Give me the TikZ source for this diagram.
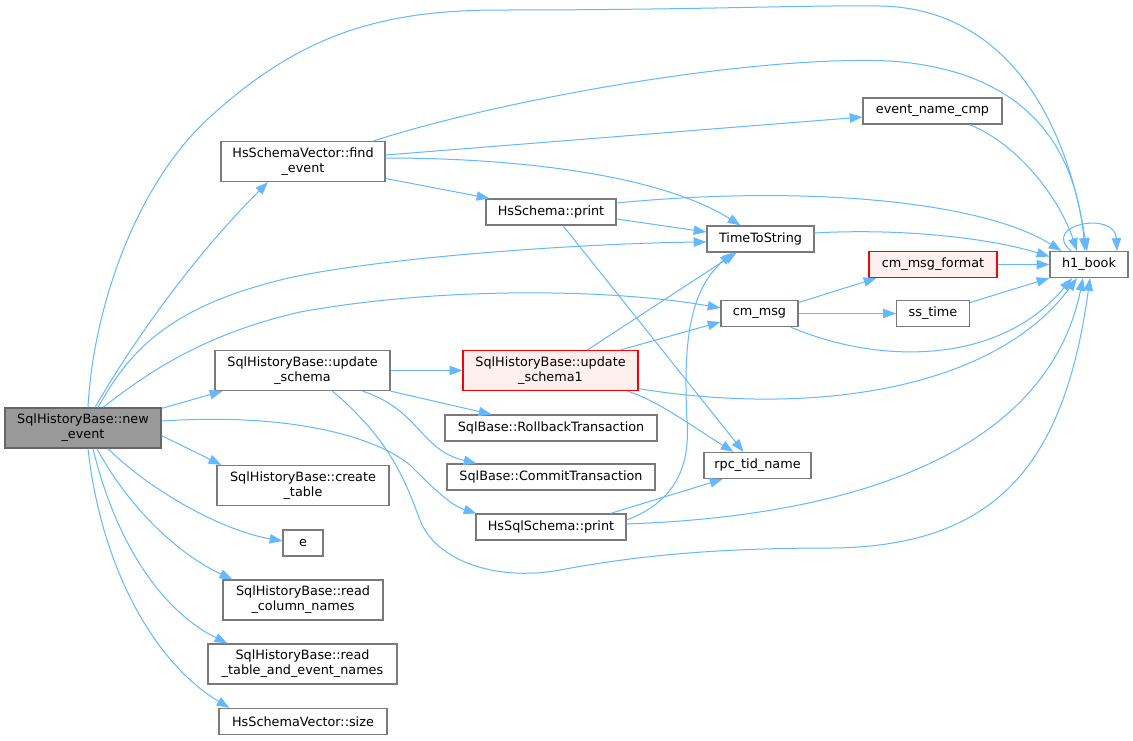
\documentclass[tikz,border=0pt]{standalone}
\usepackage{fontspec}
\setmainfont{DejaVu Sans}
\usetikzlibrary{arrows.meta,calc}
\newdimen\pxu \pxu=0.75pt
\definecolor{edgec}{HTML}{63B8FF}
\definecolor{bordc}{HTML}{7A7A7A}
\definecolor{rootf}{HTML}{999999}
\definecolor{rootb}{HTML}{666666}
\definecolor{redf}{HTML}{FFF0F0}
\definecolor{redb}{HTML}{FF0000}
\tikzset{
  box/.style={draw=bordc, fill=white, line width=0.95pt, inner sep=0pt, align=center,
    font=\fontsize{9.6}{11.25}\selectfont, text=black},
  rootbox/.style={box, fill=rootf, draw=rootb},
  redbox/.style={box, fill=redf, draw=redb},
  sz/.style 2 args={minimum width=#1\pxu, minimum height=#2\pxu},
  edge/.style={draw=edgec, line width=0.75pt, -{Triangle[length=9.5pt,width=7pt]}},
}
\begin{document}
\begin{tikzpicture}[x=0.75pt,y=-0.75pt]
\useasboundingbox[fill=white] (0,0) rectangle (1133,740);
% nodes
\node[rootbox, sz={156}{40}] (N) at (83,428) {SqlHistoryBase::new\\\_event};
\node[box, sz={164}{40}] (F) at (303,161.5) {HsSchemaVector::find\\\_event};
\node[box, sz={175}{40}] (US) at (302.5,370.5) {SqlHistoryBase::update\\\_schema};
\node[box, sz={172}{40}] (CT) at (303,485.5) {SqlHistoryBase::create\\\_table};
\node[box, sz={40}{26}] (E) at (303,543) {e};
\node[box, sz={160}{40}] (RC) at (303,600) {SqlHistoryBase::read\\\_column\_names};
\node[box, sz={189}{40}] (RT) at (302.5,664) {SqlHistoryBase::read\\\_table\_and\_event\_names};
\node[box, sz={168}{26}] (SZ) at (303,721.5) {HsSchemaVector::size};
\node[box, sz={130}{26}] (HP) at (551,212) {HsSchema::print};
\node[box, sz={107}{26}] (TS) at (760.5,239) {TimeToString};
\node[box, sz={139}{26}] (EC) at (932.5,111) {event\_name\_cmp};
\node[box, sz={77}{26}] (CM) at (759.5,313.5) {cm\_msg};
\node[redbox, sz={128}{26}] (CF) at (933,264.5) {cm\_msg\_format};
\node[box, sz={73}{26}] (ST) at (933,313.5) {ss\_time};
\node[box, sz={78}{26}] (H1) at (1089,264.5) {h1\_book};
\node[redbox, sz={175}{40}] (U1) at (550.5,370.5) {SqlHistoryBase::update\\\_schema1};
\node[box, sz={212}{26}] (RB) at (551,428) {SqlBase::RollbackTransaction};
\node[box, sz={208}{26}] (CO) at (551,477) {SqlBase::CommitTransaction};
\node[box, sz={107}{26}] (RP) at (757.5,465.5) {rpc\_tid\_name};
\node[box, sz={150}{26}] (SP) at (551,527) {HsSqlSchema::print};
% edges from new_event
\draw[edge] ($(N.north)+(5,0)$) .. controls (93,310) and (135,185) .. (210,117)
  .. controls (300,35) and (380,10) .. (500,10)
  .. controls (700,10) and (800,5) .. (880,6)
  .. controls (1000,8) and (1065,110) .. ($(H1.north)+(-2,0)$);
\draw[edge] ($(N.north)+(12,0)$) .. controls (140,330) and (200,250) .. ($(F.south)+(-35,0)$);
\draw[edge] ($(N.north)+(15,0)$) .. controls (130,350) and (170,305) .. (293,277)
  .. controls (400,255) and (600,243) .. ($(TS.west)+(0,3)$);
\draw[edge] ($(N.north)+(20,0)$) .. controls (145,375) and (200,335) .. (300,312)
  .. controls (450,285) and (620,290) .. ($(CM.west)+(0,-5.5)$);
\draw[edge] ($(N.north east)+(0,1)$) -- ($(US.south west)+(8,0)$);
\draw[edge] ($(N.east)+(0,-7)$) .. controls (300,412) and (380,440) .. (410,465)
  .. controls (430,485) and (450,505) .. ($(SP.north west)+(1,0)$);
\draw[edge] ($(N.south east)+(0,-13)$) -- ($(CT.north west)+(5,0)$);
\draw[edge] ($(N.south)+(25,0)$) .. controls (150,490) and (220,530) .. ($(E.west)+(0,-2)$);
\draw[edge] ($(N.south)+(14,0)$) .. controls (130,510) and (180,555) .. ($(RC.north west)+(10,0)$);
\draw[edge] ($(N.south)+(10,0)$) .. controls (115,540) and (160,610) .. ($(RT.north west)+(20,0)$);
\draw[edge] ($(N.south)+(5,0)$) .. controls (100,560) and (150,660) .. ($(SZ.north west)+(11,0)$);
% edges from find_event
\draw[edge] ($(F.north east)+(-12,0)$) .. controls (500,100) and (750,55) .. (890,61)
  .. controls (1020,70) and (1075,140) .. ($(H1.north)+(-4,0)$);
\draw[edge] ($(F.east)+(0,-6.5)$) -- ($(EC.west)+(0,6)$);
\draw[edge] ($(F.east)+(0,-3.5)$) .. controls (520,158) and (660,175) .. ($(TS.north)+(-20,0)$);
\draw[edge] ($(F.east)+(0,17)$) -- ($(HP.north west)+(4,0)$);
% HsSchema::print
\draw[edge] ($(HP.east)+(0,-9)$) .. controls (800,185) and (980,200) .. ($(H1.north west)+(12,0)$);
\draw[edge] ($(HP.east)+(0,7)$) -- ($(TS.west)+(0,-7)$);
\draw[edge] ($(HP.south)+(12,0)$) -- ($(RP.north)+(-14,0)$);
% TimeToString, event_name_cmp
\draw[edge] ($(TS.east)+(0,-6)$) .. controls (900,228) and (990,238) .. ($(H1.west)+(0,-8)$);
\draw[edge] ($(EC.south)+(37,0)$) .. controls (1020,145) and (1060,200) .. ($(H1.north)+(-12,0)$);
\draw[edge] ($(H1.north)+(-18,0)$) .. controls (1040,225) and (1115,210) .. ($(H1.north)+(28,0)$);
% cm_msg etc
\draw[edge] (CF.east) -- (H1.west);
\draw[edge] ($(CM.east)+(0,-11)$) -- ($(CF.south west)+(8,0)$);
\draw[edge] (CM.east) -- (ST.west);
\draw[edge] ($(CM.south east)+(-8,0)$) .. controls (880,365) and (1000,365) .. ($(H1.south)+(-17,0)$);
\draw[edge] ($(ST.east)+(0,-11)$) -- (H1.south west);
% update_schema
\draw[edge] (US.east) -- (U1.west);
\draw[edge] (US.south east) -- ($(RB.north west)+(47,0)$);
\draw[edge] ($(US.south)+(60,0)$) .. controls (420,410) and (420,450) .. ($(CO.north west)+(30,0)$);
\draw[edge] ($(US.south)+(30,0)$) .. controls (390,440) and (405,480) .. (420,520)
  .. controls (435,560) and (495,582) .. (560,570)
  .. controls (640,555) and (720,548) .. (833,548)
  .. controls (1000,546) and (1065,460) .. ($(H1.south)+(1,0)$);
% update_schema1
\draw[edge] ($(U1.north)+(37,0)$) -- ($(TS.south)+(-24,0)$);
\draw[edge] ($(U1.north east)+(-18,0)$) -- ($(CM.west)+(0,8.5)$);
\draw[edge] ($(U1.south east)+(0,-2.5)$) .. controls (800,415) and (990,395) .. ($(H1.south)+(-12,0)$);
\draw[edge] ($(U1.south east)+(-11,0)$) .. controls (660,402) and (690,425) .. ($(RP.north)+(-24,0)$);
% HsSqlSchema::print
\draw[edge] ($(SP.east)+(0,-7)$) .. controls (680,500) and (690,460) .. (687,420)
  .. controls (683,340) and (690,290) .. ($(TS.south)+(-28,0)$);
\draw[edge] ($(SP.north east)+(-16,0)$) -- ($(RP.south)+(-35,0)$);
\draw[edge] ($(SP.east)+(0,-3)$) .. controls (880,515) and (1050,440) .. ($(H1.south)+(-6,0)$);
\end{tikzpicture}
\end{document}
